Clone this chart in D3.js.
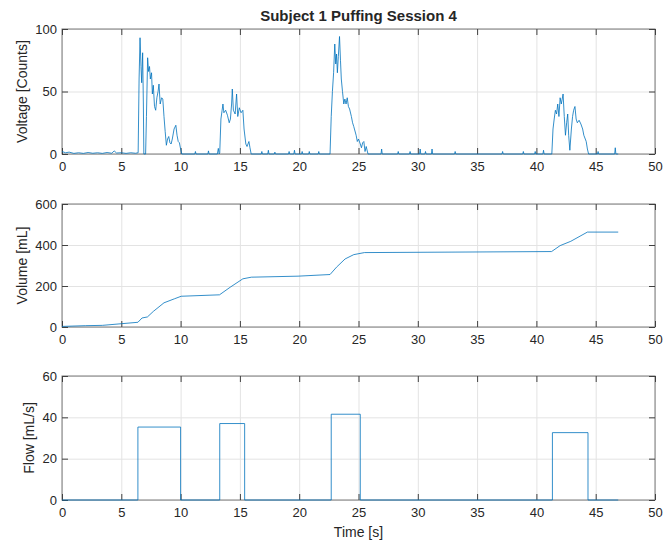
<!DOCTYPE html>
<html>
<head>
<meta charset="utf-8">
<script src="https://cdn.jsdelivr.net/npm/d3@7"></script>
<style>
    body { margin: 0; background: #fff; }
    svg text { font-family: "Liberation Sans", Arial, sans-serif; fill: #262626; }
    .grid line { stroke: #e3e3e3; }
    .grid path { stroke: none; }
    .ticks line { stroke: #404040; }
    .ticks path { stroke: none; }
</style>
</head>
<body>
<div id="chart"></div>
<script>
// ---- data ----
const timeTicks = [0, 5, 10, 15, 20, 25, 30, 35, 40, 45, 50];
const voltTicks = [0, 50, 100];
const volumeTicks = [0, 200, 400, 600];
const flowTicks = [0, 20, 40, 60];

const titleText = "Subject 1 Puffing Session 4";
const xLabelText = "Time [s]";

// raw sensor voltage (counts)
const voltTime = [0, 0.3, 0.6, 1.0, 1.4, 1.8, 2.2, 2.6, 3.0, 3.4, 3.8, 4.2, 4.4, 4.6, 5.0, 5.4, 5.8, 6.2,
    6.42, 6.5, 6.58, 6.66, 6.72, 6.8, 6.86, 6.9, 7.05, 7.12, 7.22, 7.3, 7.38, 7.45, 7.55, 7.62, 7.7, 7.8, 7.9,
    8.0, 8.1, 8.18, 8.28, 8.4, 8.5, 8.6, 8.7, 8.8, 8.9, 9.0, 9.1, 9.2, 9.3, 9.45, 9.6, 9.7, 9.8, 9.9, 10.0, 10.1,
    11.2, 11.25, 11.3, 12.3, 12.35, 12.4, 13.1, 13.18, 13.25,
    13.3, 13.4, 13.5, 13.57, 13.65, 13.8, 13.95, 14.1, 14.2, 14.3, 14.36, 14.45, 14.6, 14.72, 14.82, 14.95,
    15.1, 15.25, 15.35, 15.5, 15.6, 15.76, 15.85, 15.95,
    16.8, 16.85, 16.9, 17.35, 17.4, 17.45, 17.9, 17.95, 18.0, 19.1, 19.15, 19.2, 19.55, 19.6, 19.65,
    20.2, 20.25, 20.3, 20.8, 20.85, 20.9, 21.6, 21.65, 21.7,
    22.6, 22.7, 22.8, 22.9, 23.0, 23.08, 23.15, 23.22, 23.3, 23.4, 23.48, 23.55, 23.65, 23.76, 23.85, 23.95,
    24.05, 24.15, 24.25, 24.4, 24.5, 24.6, 24.8, 24.9, 25.0, 25.15, 25.25, 25.35, 25.45, 25.55, 25.65, 25.8,
    26.9, 26.95, 27.0, 28.3, 28.35, 28.4, 29.3, 29.35, 29.4, 30.15, 30.2, 30.25, 30.6, 30.65, 30.7,
    31.15, 31.2, 31.25, 33.1, 33.15, 33.2, 37.1, 37.15, 37.2, 38.85, 38.9, 38.95, 39.85, 39.9, 39.95,
    40.55, 40.6, 40.65,
    41.3, 41.4, 41.5, 41.6, 41.7, 41.8, 41.9, 42.0, 42.1, 42.25, 42.35, 42.45, 42.55, 42.64, 42.72, 42.82,
    42.95, 43.05, 43.14, 43.25, 43.35, 43.45, 43.6, 43.75, 43.9, 44.0, 44.2, 44.3, 44.4,
    45.15, 45.2, 45.25, 46.6, 46.65, 46.7, 46.9];
const voltValue = [2, 1, 1.5, 0.5, 1, 0.5, 1.2, 0.6, 1, 0.5, 1.2, 0.6, 2.5, 0.8, 1, 0.5, 1, 0.6,
    1, 60, 93, 70, 57, 81, 40, 0, 0, 30, 77, 66, 70, 60, 65, 48, 55, 38, 35,
    45, 50, 56, 40, 45, 44, 30, 18, 7, 12, 14, 9, 8, 12, 20, 23, 15, 10, 9, 4, 0,
    0, 2, 0, 0, 2.5, 0, 0, 4.5, 0,
    1, 28, 35, 40, 33, 35, 31, 25, 28, 40, 52, 35, 32, 48, 30, 37,
    33, 35, 20, 8, 6, 10, 5, 0,
    0, 2, 0, 0, 3, 0, 0, 1.5, 0, 0, 2, 0, 0, 3, 0,
    0, 2, 0, 0, 2, 0, 0, 2, 0,
    0, 30, 50, 65, 88, 72, 80, 65, 78, 94, 75, 60, 50, 40, 44, 40,
    45, 38, 36, 30, 25, 22, 15, 10, 12, 8, 5, 9, 10, 2, 6, 0,
    0, 4, 0, 0, 2, 0, 0, 2, 0, 0, 4, 0, 0, 2, 0,
    0, 4, 0, 0, 2, 0, 0, 2, 0, 0, 2, 0, 0, 2, 0,
    0, 3, 0,
    0, 20, 28, 35, 32, 40, 30, 45, 40, 48, 30, 15, 25, 32, 15, 3,
    20, 30, 35, 38, 28, 25, 27, 24, 20, 15, 10, 4, 0,
    0, 2, 0, 0, 5, 0, 0];

// cumulative puff volume (mL)
const volumeTime = [0, 0.1, 2.0, 3.4, 5.0, 6.4, 6.75, 7.2, 7.7, 8.6, 9.5, 10.05, 13.28, 14.18, 15.25, 15.97,
    19.9, 22.6, 23.15, 23.87, 24.6, 25.5, 41.28, 42.0, 42.9, 44.3, 46.9];
const volumeValue = [2, 3, 6.5, 8, 16, 23, 44, 49, 76, 118, 138, 150, 157, 194, 235, 243,
    248, 256, 292, 332, 353, 363, 368, 397, 418, 463, 463];

// flow rate (mL/s), square pulses
const flowTime = [0, 6.4, 6.4, 10.0, 10.0, 13.3, 13.3, 15.4, 15.4, 22.7, 22.7, 25.15, 25.15,
    41.35, 41.35, 44.35, 44.35, 46.9];
const flowValue = [0, 0, 35.3, 35.3, 0, 0, 37, 37, 0, 0, 41.5, 41.5, 0, 0, 32.6, 32.6, 0, 0];

// ---- layout ----
const width = 667, height = 542;
const left = 62, right = 655;
const tickLen = 6;

const svg = d3.select("#chart").append("svg")
    .attr("width", width)
    .attr("height", height);

const xScale = d3.scaleLinear().domain([0, 50]).range([left, right]);

class Panel {
    constructor(top, bottom, yMax, yTicks) {
        this.top = top;
        this.bottom = bottom;
        this.yTicks = yTicks;
        this.yScale = d3.scaleLinear().domain([0, yMax]).range([bottom, top]);
        this.g = svg.append("g");
    }

    renderAxes() {
        // grid lines
        this.g.append("g")
            .attr("class", "grid")
            .attr("transform", `translate(0,${this.bottom})`)
            .call(d3.axisBottom(xScale).tickValues(timeTicks)
                .tickSize(-(this.bottom - this.top)).tickFormat(""));
        this.g.append("g")
            .attr("class", "grid")
            .attr("transform", `translate(${left},0)`)
            .call(d3.axisLeft(this.yScale).tickValues(this.yTicks)
                .tickSize(-(right - left)).tickFormat(""));

        // box
        this.g.append("rect")
            .attr("x", left)
            .attr("y", this.top)
            .attr("width", right - left)
            .attr("height", this.bottom - this.top)
            .attr("fill", "none")
            .attr("stroke", "#7a7a7a")
            .attr("stroke-width", 1);

        // inward ticks on all four sides
        const bottomAxis = this.g.append("g")
            .attr("class", "ticks")
            .attr("transform", `translate(0,${this.bottom})`)
            .call(d3.axisBottom(xScale).tickValues(timeTicks)
                .tickSize(-tickLen).tickPadding(8).tickFormat(d3.format("d")));
        this.g.append("g")
            .attr("class", "ticks")
            .attr("transform", `translate(0,${this.top})`)
            .call(d3.axisTop(xScale).tickValues(timeTicks).tickSize(-tickLen).tickFormat(""));
        const leftAxis = this.g.append("g")
            .attr("class", "ticks")
            .attr("transform", `translate(${left},0)`)
            .call(d3.axisLeft(this.yScale).tickValues(this.yTicks)
                .tickSize(-tickLen).tickPadding(5).tickFormat(d3.format("d")));
        this.g.append("g")
            .attr("class", "ticks")
            .attr("transform", `translate(${right},0)`)
            .call(d3.axisRight(this.yScale).tickValues(this.yTicks).tickSize(-tickLen).tickFormat(""));

        bottomAxis.selectAll("text").attr("font-size", 13).attr("fill", "#262626");
        leftAxis.selectAll("text").attr("font-size", 13).attr("fill", "#262626");
    }

    addYLabel(label, cx) {
        const cy = (this.top + this.bottom) / 2;
        this.g.append("text")
            .attr("transform", `translate(${cx},${cy}) rotate(-90)`)
            .attr("text-anchor", "middle")
            .attr("dy", "0.35em")
            .attr("font-size", 14)
            .text(label);
    }

    addLine(times, values) {
        const line = d3.line()
            .x((d, i) => xScale(times[i]))
            .y(d => this.yScale(d));
        this.g.append("path")
            .datum(values)
            .attr("fill", "none")
            .attr("stroke", "#0072BD")
            .attr("stroke-width", 0.8)
            .attr("stroke-linejoin", "round")
            .attr("d", line);
    }
}

const voltPanel = new Panel(29, 154, 100, voltTicks);
voltPanel.renderAxes();
voltPanel.addLine(voltTime, voltValue);
voltPanel.addYLabel("Voltage [Counts]", 22);

const volumePanel = new Panel(204, 327, 600, volumeTicks);
volumePanel.renderAxes();
volumePanel.addLine(volumeTime, volumeValue);
volumePanel.addYLabel("Volume [mL]", 22);

const flowPanel = new Panel(376, 500, 60, flowTicks);
flowPanel.renderAxes();
flowPanel.addLine(flowTime, flowValue);
flowPanel.addYLabel("Flow [mL/s]", 29);

// title and x label
svg.append("text")
    .attr("x", (left + right) / 2)
    .attr("y", 21)
    .attr("text-anchor", "middle")
    .attr("font-size", 15)
    .attr("font-weight", "bold")
    .text(titleText);

svg.append("text")
    .attr("x", (left + right) / 2)
    .attr("y", 537)
    .attr("text-anchor", "middle")
    .attr("font-size", 14)
    .text(xLabelText);
</script>
</body>
</html>
